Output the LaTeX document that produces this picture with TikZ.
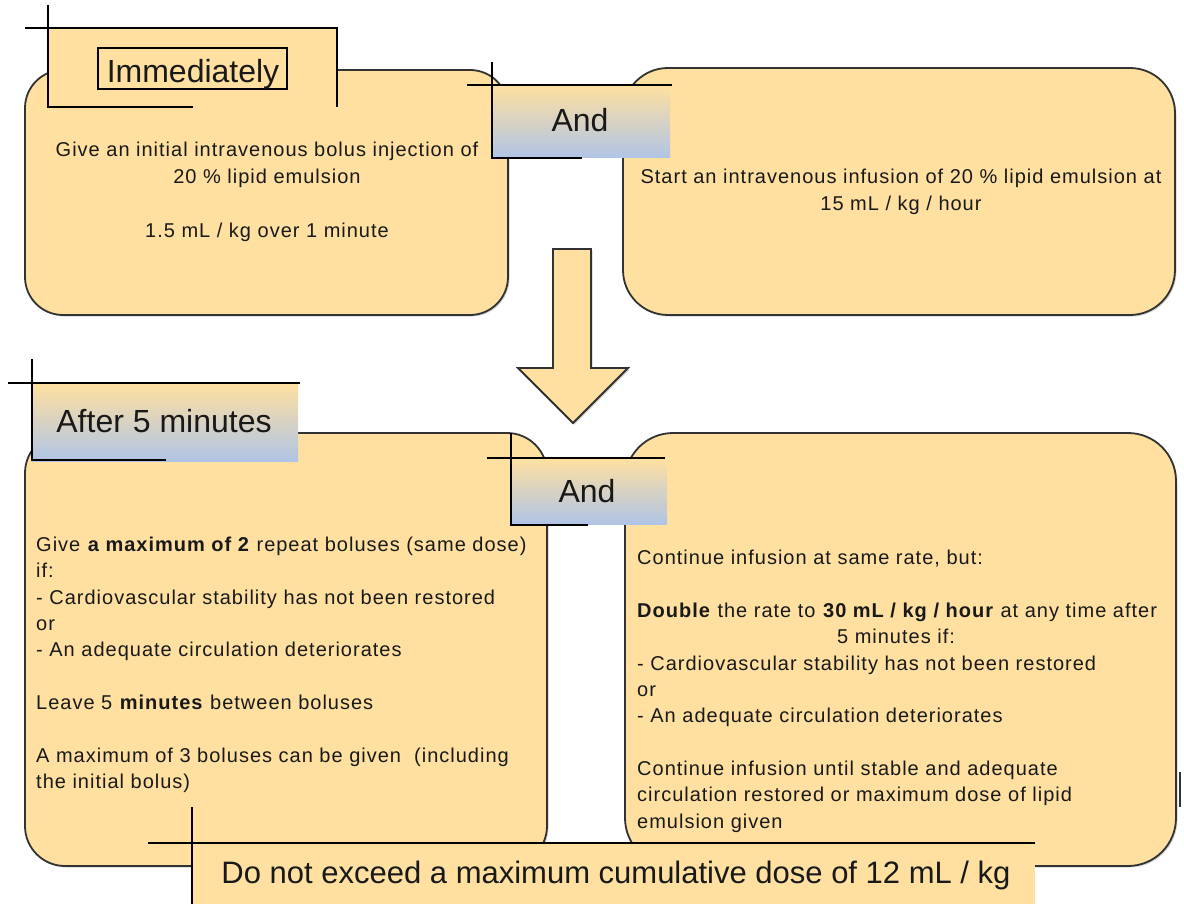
\documentclass[tikz,border=0pt]{standalone}
\usepackage{fontspec}
\setmainfont{Liberation Sans}
\newfontfamily\bodyfam{Liberation Sans}[LetterSpace=5]
\usetikzlibrary{shadows}
\definecolor{boxfill}{RGB}{255,224,160}
\definecolor{gradblue}{RGB}{176,196,230}
\definecolor{edgecol}{RGB}{50,50,50}
\definecolor{ink}{RGB}{25,25,25}
\begin{document}
\begin{tikzpicture}[x=1pt,y=-1pt,
  roundbox/.style={rectangle, draw=edgecol, line width=1.8pt, fill=boxfill, inner sep=0pt,
    drop shadow={shadow xshift=1.5pt, shadow yshift=-1.5pt, opacity=0.35}},
  labelline/.style={draw=black, line width=2pt},
  gradfill/.style={top color=boxfill, bottom color=gradblue},
  body/.style={inner sep=0pt, font=\bodyfam\fontsize{20}{26}\selectfont, text=ink},
  bodyL/.style={body, anchor=base west},
  bodyC/.style={body, anchor=base},
  heading/.style={inner sep=0pt, anchor=base, font=\fontsize{32}{38}\selectfont, text=ink}
]
\useasboundingbox (0,0) rectangle (1184,904);

% rounded boxes
\node[roundbox, rounded corners=38pt, minimum width=483pt, minimum height=245pt] (tl) at (266.5,192.5) {};
\node[roundbox, rounded corners=45pt, minimum width=552pt, minimum height=247pt] (tr) at (899,191.5) {};
\node[roundbox, rounded corners=40pt, minimum width=522pt, minimum height=433pt] (bl) at (286,649.5) {};
\node[roundbox, rounded corners=48pt, minimum width=551pt, minimum height=433pt] (br) at (900.5,649.5) {};

% block arrow
\coordinate (a1) at (553,249); \coordinate (a2) at (591,249);
\coordinate (a3) at (591,368); \coordinate (a4) at (628,368);
\coordinate (a5) at (573,423); \coordinate (a6) at (518,368);
\coordinate (a7) at (553,368);
\draw[draw=edgecol, line width=1.8pt, fill=boxfill, line join=miter,
  drop shadow={shadow xshift=1.5pt, shadow yshift=-1.5pt, opacity=0.35}]
  (a1) -- (a2) -- (a3) -- (a4) -- (a5) -- (a6) -- (a7) -- cycle;

% Immediately label
\fill[boxfill] (48,28) rectangle (337,107);
\draw[labelline] (25,28) -- (337,28) -- (337,107);
\draw[labelline] (48,5) -- (48,107) -- (193,107);
\draw[black, line width=1.5pt] (98,48) rectangle (287,89);
\node[heading] (imm) at (193,83) {Immediately};

% And (top)
\shade[gradfill] (492,85) rectangle (670,158);
\draw[labelline] (467,85) -- (672,85);
\draw[labelline] (492,62) -- (492,158) -- (582,158);
\node[heading] (and1) at (580,132) {And};

% After 5 minutes
\shade[gradfill] (32,383) rectangle (298,461);
\draw[labelline] (8,383) -- (300,383);
\draw[labelline] (32,359) -- (32,460) -- (166,460);
\node[heading] (after) at (164,432) {After 5 minutes};

% And (bottom)
\shade[gradfill] (511,458) rectangle (667,524);
\draw[labelline] (487,458) -- (665,458);
\draw[labelline] (511,433) -- (511,525) -- (588,525);
\node[heading] (and2) at (587,502) {And};

% top-left text
\node[bodyC] (t1) at (267,157) {Give an initial intravenous bolus injection of};
\node[bodyC] (t2) at (267,184) {20 \% lipid emulsion};
\node[bodyC] (t3) at (267,238) {1.5 mL / kg over 1 minute};

% top-right text
\node[bodyC] (r1) at (901,184) {Start an intravenous infusion of 20 \% lipid emulsion at};
\node[bodyC] (r2) at (901,211) {15 mL / kg / hour};

% bottom-left text
\node[bodyL] (b1) at (36,551) {Give \textbf{a maximum of 2} repeat boluses (same dose)};
\node[bodyL] (b2) at (36,577) {if:};
\node[bodyL] (b3) at (36,604) {- Cardiovascular stability has not been restored};
\node[bodyL] (b4) at (36,630) {or};
\node[bodyL] (b5) at (36,656) {- An adequate circulation deteriorates};
\node[bodyL] (b6) at (36,709) {Leave 5 \textbf{minutes} between boluses};
\node[bodyL] (b7) at (36,762) {A maximum of 3 boluses can be given\ \ (including};
\node[bodyL] (b8) at (36,788) {the initial bolus)};

% bottom-right text
\node[bodyL] (c1) at (637,564) {Continue infusion at same rate, but:};
\node[bodyL] (c2) at (637,617) {\textbf{Double} the rate to \textbf{30 mL / kg / hour} at any time after};
\node[bodyC] (c3) at (896,643) {5 minutes if:};
\node[bodyL] (c4) at (637,670) {- Cardiovascular stability has not been restored};
\node[bodyL] (c5) at (637,696) {or};
\node[bodyL] (c6) at (637,722) {- An adequate circulation deteriorates};
\node[bodyL] (c7) at (637,775) {Continue infusion until stable and adequate};
\node[bodyL] (c8) at (637,801) {circulation restored or maximum dose of lipid};
\node[bodyL] (c9) at (637,828) {emulsion given};

% bottom banner
\fill[boxfill] (193,843) rectangle (1035,904);
\draw[labelline] (148,843) -- (1035,843);
\draw[labelline] (192,807) -- (192,904);
\node[heading, font=\fontsize{31}{36}\selectfont] (ban) at (616,883) {Do not exceed a maximum cumulative dose of 12 mL / kg};

% stray mark at right edge
\coordinate (s1) at (1180,772); \coordinate (s2) at (1180,807);
\draw[edgecol, line width=1.5pt] (s1) -- (s2);
\end{tikzpicture}
\end{document}
